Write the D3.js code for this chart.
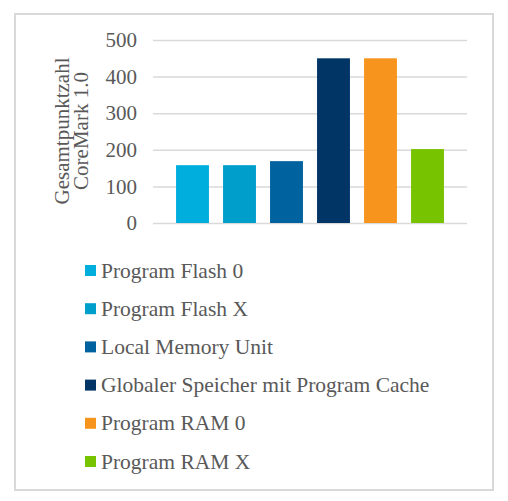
<!DOCTYPE html>
<html>
<head>
<meta charset="utf-8">
<script src="https://cdn.jsdelivr.net/npm/d3@7"></script>
<style>
  body { margin: 0; background: #fff; }
</style>
</head>
<body>
<div id="chart"></div>
<script>
// chart data
var categories = ["Program Flash 0", "Program Flash X", "Local Memory Unit",
                  "Globaler Speicher mit Program Cache", "Program RAM 0", "Program RAM X"];
var scores = [158, 158, 169, 450, 450, 202];
var barColors = ["#00aede", "#009ecb", "#00629e", "#003566", "#f7941d", "#78c300"];
var yTicks = [0, 100, 200, 300, 400, 500];
var yTitle = ["Gesamtpunktzahl", "CoreMark 1.0"];

var serif = "'Liberation Serif', 'Times New Roman', 'DejaVu Serif', serif";

// make canvas
var svg = d3.select("#chart").append("svg")
    .attr("width", 508)
    .attr("height", 501)
    .style("font-family", serif);

// outer frame
svg.append("rect")
    .attr("x", 15).attr("y", 14)
    .attr("width", 478).attr("height", 476)
    .attr("fill", "#fff")
    .attr("stroke", "#d9d9d9")
    .attr("stroke-width", 2);

// scales
var x = d3.scaleBand()
        .domain(categories)
        .range([169, 451])
        .paddingInner(0.3)
        .paddingOuter(0.15),
    y = d3.scaleLinear()
        .domain([0, 500])
        .range([223, 40]);

// y axis with gridlines
var yAxis = svg.append("g")
    .attr("class", "axis axis--y")
    .attr("transform", "translate(153,0)")
    .call(d3.axisLeft(y).tickValues(yTicks).tickSize(-314).tickPadding(16));

yAxis.attr("font-family", null).attr("font-size", null);
yAxis.select(".domain").remove();
yAxis.selectAll("line").attr("stroke", "#d9d9d9").attr("stroke-width", 1.5);
yAxis.selectAll("text")
    .style("font-family", serif)
    .style("font-size", "21px")
    .attr("fill", "#595959");

// y axis title (two lines)
svg.append("text")
    .attr("transform", "translate(69,131) rotate(-90)")
    .attr("text-anchor", "middle")
    .attr("fill", "#595959")
    .style("font-family", serif)
    .style("font-size", "21px")
  .selectAll("tspan")
    .data(yTitle)
  .enter().append("tspan")
    .attr("x", 0)
    .attr("dy", function(d, i) { return i === 0 ? 0 : "0.9em"; })
    .text(function(d) { return d; });

// bars
svg.selectAll(".bar")
    .data(categories)
  .enter().append("rect")
    .attr("class", "bar")
    .attr("x", function(d) { return x(d); })
    .attr("y", function(d, i) { return y(scores[i]); })
    .attr("width", x.bandwidth())
    .attr("height", function(d, i) { return y(0) - y(scores[i]); })
    .attr("fill", function(d, i) { return barColors[i]; });

// legend
var legend = svg.selectAll(".legend")
    .data(categories)
  .enter().append("g")
    .attr("class", "legend")
    .attr("transform", function(d, i) { return "translate(85," + (270 + i * 38.2) + ")"; });

legend.append("rect")
    .attr("x", 0).attr("y", -5)
    .attr("width", 11).attr("height", 11)
    .attr("fill", function(d, i) { return barColors[i]; });

legend.append("text")
    .attr("x", 16)
    .attr("dy", "0.35em")
    .attr("fill", "#595959")
    .style("font-family", serif)
    .style("font-size", "21.5px")
    .text(function(d) { return d; });
</script>
</body>
</html>
